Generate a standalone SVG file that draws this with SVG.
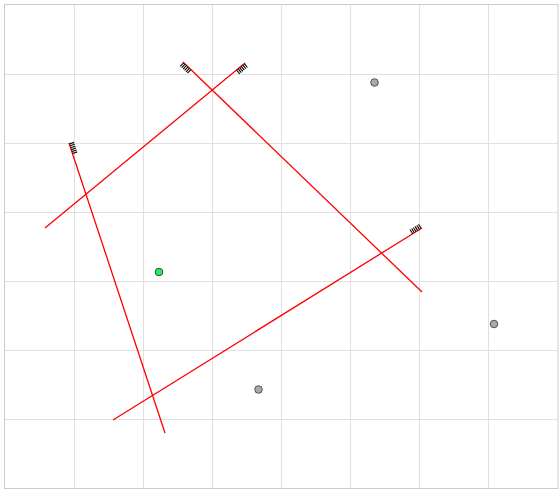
<svg xmlns="http://www.w3.org/2000/svg" width="560" height="489" viewBox="0 0 560 489">
<style>
.grid{stroke:#e0e0e0;stroke-width:1;fill:none}
.border{stroke:#cccccc;stroke-width:1;fill:none}
.wall{stroke:#ff0000;stroke-width:1.3;fill:none}
.hatch{stroke:#000;stroke-width:1.1;fill:none}
.pt{fill:#aaaaaa;stroke:#333;stroke-width:0.8}
.pt-g{fill:#22ee66;stroke:#222;stroke-width:0.8}
</style>
<rect x="0" y="0" width="560" height="489" fill="#ffffff"/>
<g id="grid">
<path class="grid" d="M74.5 5V489M143.5 5V489M212.5 5V489M281.5 5V489M350.5 5V489M419.5 5V489M488.5 5V489M5 74.5H558M5 143.5H558M5 212.5H558M5 281.5H558M5 350.5H558M5 419.5H558"/>
<rect class="border" x="4.5" y="4.5" width="553.5" height="484"/>
</g>
<g id="connectors">
<g id="wall-a">
<line class="wall" x1="45" y1="228" x2="245" y2="63"/>
<path class="hatch" d="M244.23 63.64L247.41 67.5M242.69 64.91L245.87 68.77M241.15 66.18L244.33 70.04M239.6 67.45L242.78 71.31M238.06 68.72L241.24 72.58M236.52 70L239.7 73.86"/>
</g>
<g id="wall-b">
<line class="wall" x1="183" y1="62" x2="422" y2="292"/>
<path class="hatch" d="M183.72 62.69L180.25 66.29M185.16 64.08L181.69 67.68M186.6 65.47L183.13 69.07M188.04 66.85L184.57 70.45M189.48 68.24L186.01 71.84M190.93 69.63L187.46 73.23"/>
</g>
<g id="wall-c">
<line class="wall" x1="69" y1="143" x2="165" y2="433"/>
<path class="hatch" d="M69.31 143.95L74.06 142.38M69.94 145.85L74.69 144.28M70.57 147.75L75.32 146.18M71.2 149.65L75.95 148.08M71.83 151.54L76.58 149.97M72.46 153.44L77.21 151.87"/>
</g>
<g id="wall-d">
<line class="wall" x1="113" y1="420" x2="422" y2="228"/>
<path class="hatch" d="M421.15 228.53L418.51 224.28M419.45 229.58L416.81 225.33M417.75 230.64L415.11 226.39M416.05 231.69L413.41 227.44M414.36 232.75L411.72 228.5M412.66 233.81L410.02 229.56"/>
</g>
</g>
<g id="point-green"><circle class="pt-g" cx="159" cy="272" r="3.8"/></g>
<g id="point-1"><circle class="pt" cx="374.5" cy="82.5" r="3.8"/></g>
<g id="point-2"><circle class="pt" cx="494" cy="324" r="3.8"/></g>
<g id="point-3"><circle class="pt" cx="258.5" cy="389.5" r="3.8"/></g>
</svg>
